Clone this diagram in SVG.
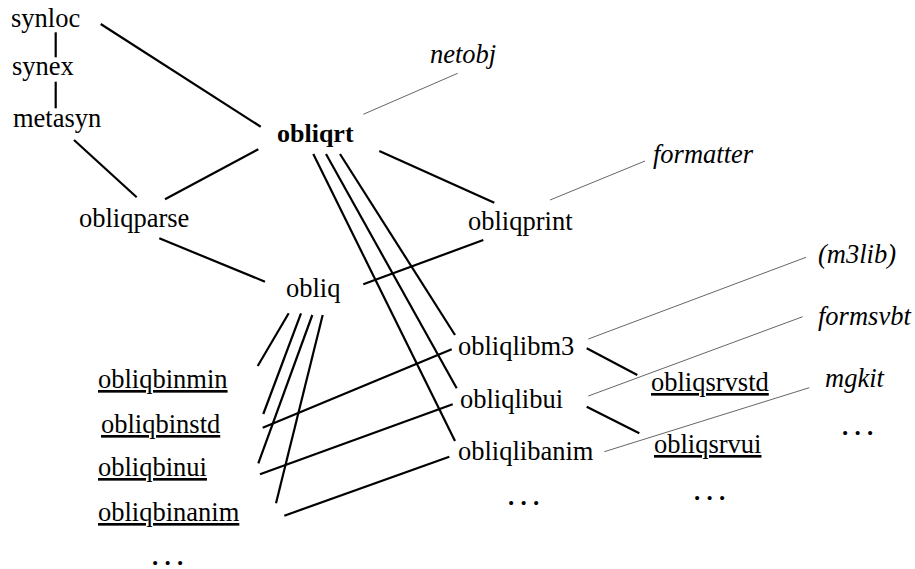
<svg xmlns="http://www.w3.org/2000/svg" width="915" height="569" viewBox="0 0 915 569">
<style>
.b{font-weight:bold;font-size:26px}
.i{font-style:italic}
.u{text-decoration:underline}
.d{letter-spacing:6.3px;font-weight:bold;font-size:25px}
.thick line{stroke:#000;stroke-width:2.2;stroke-linecap:butt}
.thin line{stroke:#555;stroke-width:0.9}
</style>
<rect width="915" height="569" fill="#fff"/>
<g id="connectors">
<g class="thick">
<line x1="100.7" y1="24" x2="260.7" y2="126.7"/>
<line x1="55.7" y1="32.3" x2="55.7" y2="57.3"/>
<line x1="55.7" y1="81.7" x2="55.7" y2="108.3"/>
<line x1="74" y1="140" x2="136.7" y2="197.3"/>
<line x1="165" y1="199.3" x2="258.3" y2="149.3"/>
<line x1="159.3" y1="238.3" x2="265" y2="281.7"/>
<line x1="379.3" y1="151" x2="494.3" y2="202.7"/>
<line x1="483.3" y1="240" x2="363.3" y2="284.3"/>
<line x1="313.3" y1="154" x2="455" y2="441"/>
<line x1="326" y1="154" x2="456.7" y2="388.3"/>
<line x1="340" y1="154" x2="455" y2="335"/>
<line x1="288.7" y1="313.3" x2="257.7" y2="366"/>
<line x1="301" y1="313.3" x2="263.3" y2="414"/>
<line x1="312.3" y1="315" x2="258.3" y2="463.3"/>
<line x1="322.7" y1="315" x2="276" y2="503.3"/>
<line x1="262.7" y1="427.7" x2="451.7" y2="349.3"/>
<line x1="260" y1="474.3" x2="452.7" y2="404.3"/>
<line x1="284.3" y1="515.7" x2="449.3" y2="456.7"/>
<line x1="586.7" y1="348.3" x2="637.3" y2="375"/>
<line x1="586.7" y1="406.7" x2="639.3" y2="433.3"/>
</g>
<g class="thin">
<line x1="363.3" y1="114.3" x2="457.7" y2="73.3"/>
<line x1="550" y1="200" x2="645" y2="161"/>
<line x1="588.3" y1="339" x2="806" y2="257.3"/>
<line x1="588.3" y1="396" x2="802.7" y2="316.7"/>
<line x1="604.3" y1="451.7" x2="809.3" y2="387.7"/>
</g>
</g>
<g font-family="Liberation Serif, serif" font-size="26.5" fill="#000">
<g id="synloc"><text x="11" y="27">synloc</text></g>
<g id="synex"><text x="12" y="75">synex</text></g>
<g id="metasyn"><text x="13" y="127">metasyn</text></g>
<g id="obliqrt"><text class="b" x="277" y="142">obliqrt</text></g>
<g id="netobj"><text class="i" x="430" y="63">netobj</text></g>
<g id="formatter"><text class="i" x="653" y="163">formatter</text></g>
<g id="obliqparse"><text x="79" y="227">obliqparse</text></g>
<g id="obliqprint"><text x="468" y="230">obliqprint</text></g>
<g id="obliq"><text x="286" y="297">obliq</text></g>
<g id="m3lib"><text class="i" x="818" y="263">(m3lib)</text></g>
<g id="formsvbt"><text class="i" x="818" y="325">formsvbt</text></g>
<g id="mgkit"><text class="i" x="825" y="387">mgkit</text></g>
<g id="obliqlibm3"><text x="458" y="355">obliqlibm3</text></g>
<g id="obliqlibui"><text x="460" y="408">obliqlibui</text></g>
<g id="obliqlibanim"><text x="458" y="460">obliqlibanim</text></g>
<g id="obliqsrvstd"><text class="u" x="651" y="391">obliqsrvstd</text></g>
<g id="obliqsrvui"><text class="u" x="654" y="453">obliqsrvui</text></g>
<g id="obliqbinmin"><text class="u" x="98" y="388">obliqbinmin</text></g>
<g id="obliqbinstd"><text class="u" x="101" y="433">obliqbinstd</text></g>
<g id="obliqbinui"><text class="u" x="98" y="476">obliqbinui</text></g>
<g id="obliqbinanim"><text class="u" x="98" y="521">obliqbinanim</text></g>
<g id="dots-bin"><text class="d" x="152" y="565">...</text></g>
<g id="dots-lib"><text class="d" x="508" y="505">...</text></g>
<g id="dots-srv"><text class="d" x="694" y="500">...</text></g>
<g id="dots-right"><text class="d" x="842" y="435">...</text></g>
</g>
</svg>
